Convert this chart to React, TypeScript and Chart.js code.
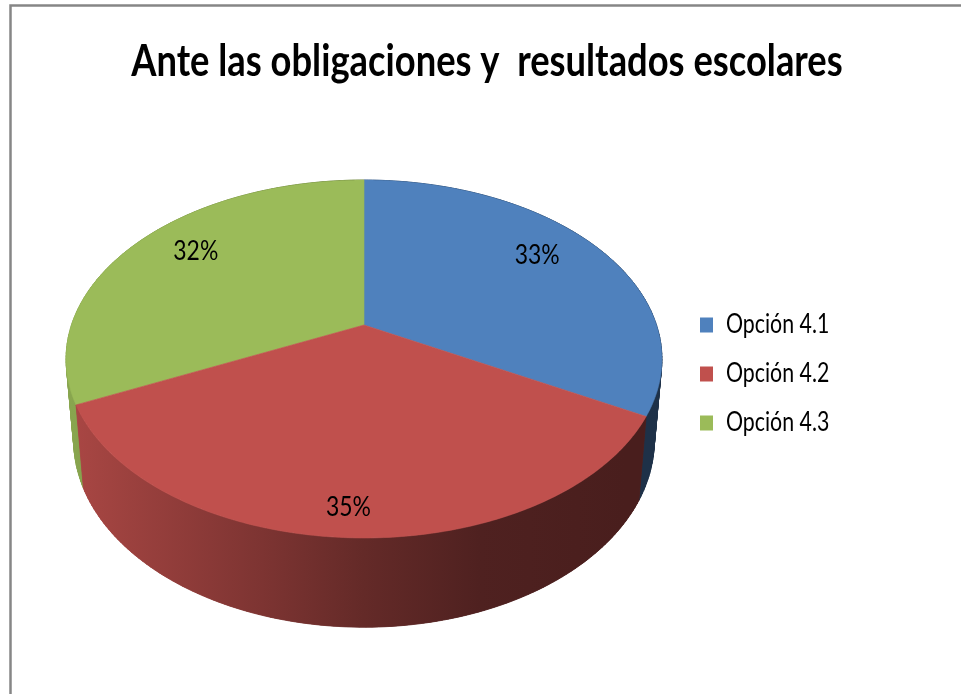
import React, { useEffect, useRef } from "react";
import { Chart, registerables } from "chart.js";

Chart.register(...registerables);

const titleText = "Ante las obligaciones y  resultados escolares";
const categories = ["Opción 4.1", "Opción 4.2", "Opción 4.3"];
const shares = [33, 35, 32];
const sliceColors = ["#4F81BD", "#C0504D", "#9BBB59"];
const sliceRgb = [[79, 129, 189], [192, 80, 77], [155, 187, 89]];
const labelRadius = [0.76, 0.87, 0.76];
const labelShift = [[-5, -8], [-6, 3], [6, -9]];
const shadeU = [-1, -0.95, -0.35, 0, 0.4, 0.9, 1];
const shadeF = [0.88, 0.86, 0.65, 0.52, 0.41, 0.38, 0.38];
const FONT = "Lato, sans-serif";

const CX = 364;
const K = 0.19;
const topFace = { b: 292.5, y0: 325, a: 172.5 };
const bottomFace = { b: 285, y0: 405, a: 180 };
const project = (f: any, u: number, v: number): [number, number] => {
  const w = 1 - K * v;
  return [CX + (f.b * u) / w, f.y0 + (f.a * v) / w];
};

const pie3d = {
  id: "pie3d",
  beforeDraw(chart: any) {
    const { ctx, width, height } = chart;
    if (!ctx.__squeezed) {
      ctx.__squeezed = true;
      const orig = ctx.fillText.bind(ctx);
      ctx.fillText = (text: string, x: number, y: number) => {
        const squeeze = ctx.font.includes("bold") ? 0.826 : text.endsWith("%") ? 0.85 : 0.82;
        ctx.save();
        ctx.translate(x, y);
        ctx.scale(squeeze, 1);
        orig(text, 0, 0);
        ctx.restore();
      };
    }
    ctx.save();
    ctx.fillStyle = "#ffffff";
    ctx.fillRect(0, 0, width, height);
    ctx.strokeStyle = "#868686";
    ctx.lineWidth = 2.5;
    ctx.beginPath();
    ctx.moveTo(10.5, height);
    ctx.lineTo(10.5, 5.4);
    ctx.lineTo(width, 5.4);
    ctx.stroke();
    ctx.restore();
  },
  beforeDatasetsDraw(chart: any) {
    const { ctx } = chart;
    const arcs = chart.getDatasetMeta(0).data;
    ctx.save();
    ctx.lineJoin = "round";
    [2, 0, 1].forEach((i) => {
      const arc = arcs[i];
      const n = 120;
      const angle = (s: number) => arc.startAngle + ((arc.endAngle - arc.startAngle) * s) / n;
      const grad = ctx.createLinearGradient(CX - 290, 0, CX + 290, 0);
      const [r, g, b] = sliceRgb[i];
      shadeU.forEach((u, k) => {
        const f = shadeF[k];
        grad.addColorStop((u + 1) / 2, `rgb(${Math.round(r * f)},${Math.round(g * f)},${Math.round(b * f)})`);
      });
      ctx.fillStyle = grad;
      ctx.strokeStyle = grad;
      ctx.lineWidth = 0.8;
      for (let s = 0; s < n; s++) {
        const a0 = angle(s);
        const a1 = angle(s + 1);
        const pts = [
          project(topFace, Math.cos(a0), Math.sin(a0)),
          project(topFace, Math.cos(a1), Math.sin(a1)),
          project(bottomFace, Math.cos(a1), Math.sin(a1)),
          project(bottomFace, Math.cos(a0), Math.sin(a0)),
        ];
        ctx.beginPath();
        pts.forEach((p, k) => (k ? ctx.lineTo(p[0], p[1]) : ctx.moveTo(p[0], p[1])));
        ctx.closePath();
        ctx.fill();
        ctx.stroke();
      }
      ctx.beginPath();
      for (let s = 0; s <= n; s++) {
        const a = angle(s);
        const p = project(topFace, Math.cos(a), Math.sin(a));
        s ? ctx.lineTo(p[0], p[1]) : ctx.moveTo(p[0], p[1]);
      }
      for (let s = n; s >= 0; s--) {
        const a = angle(s);
        const p = project(bottomFace, Math.cos(a), Math.sin(a));
        ctx.lineTo(p[0], p[1]);
      }
      ctx.closePath();
      ctx.fill();
    });
    [0, 2, 1].forEach((i) => {
      const arc = arcs[i];
      const n = 180;
      ctx.fillStyle = sliceColors[i];
      ctx.strokeStyle = sliceColors[i];
      ctx.lineWidth = 0.6;
      ctx.beginPath();
      const apex = project(topFace, 0, 0);
      ctx.moveTo(apex[0], apex[1]);
      for (let s = 0; s <= n; s++) {
        const a = arc.startAngle + ((arc.endAngle - arc.startAngle) * s) / n;
        const p = project(topFace, Math.cos(a), Math.sin(a));
        ctx.lineTo(p[0], p[1]);
      }
      ctx.closePath();
      ctx.fill();
      ctx.stroke();
    });
    ctx.fillStyle = "#000000";
    ctx.font = `27px ${FONT}`;
    ctx.textAlign = "center";
    ctx.textBaseline = "middle";
    arcs.forEach((arc: any, i: number) => {
      const a = (arc.startAngle + arc.endAngle) / 2;
      const f = labelRadius[i];
      const p = project(topFace, f * Math.cos(a), f * Math.sin(a));
      ctx.fillText(`${shares[i]}%`, p[0] + labelShift[i][0], p[1] + labelShift[i][1]);
    });
    ctx.restore();
    return false;
  },
};

export default function App() {
  const ref = useRef<HTMLCanvasElement>(null);
  useEffect(() => {
    const chart = new Chart(ref.current as HTMLCanvasElement, {
      type: "pie",
      data: {
        labels: categories,
        datasets: [{ data: shares, backgroundColor: sliceColors, borderWidth: 0 }],
      },
      options: {
        animation: false,
        responsive: false,
        layout: { padding: { left: 112, right: 99, top: 35, bottom: 235 } },
        plugins: {
          tooltip: { enabled: false },
          title: {
            display: true,
            text: titleText,
            color: "#000000",
            font: { family: FONT, size: 44, weight: "bold" },
            padding: { top: 0, bottom: 10 },
          },
          legend: {
            position: "right",
            align: "end",
            labels: {
              boxWidth: 13,
              boxHeight: 15,
              padding: 23,
              color: "#000000",
              font: { family: FONT, size: 26 },
            },
          },
        },
      } as any,
      plugins: [pie3d as any],
    });
    return () => chart.destroy();
  }, []);
  return (
    <div style={{ position: "absolute", left: 0, top: 0, width: 961, height: 694 }}>
      <canvas ref={ref} width={961} height={694} style={{ display: "block" }} />
    </div>
  );
}
